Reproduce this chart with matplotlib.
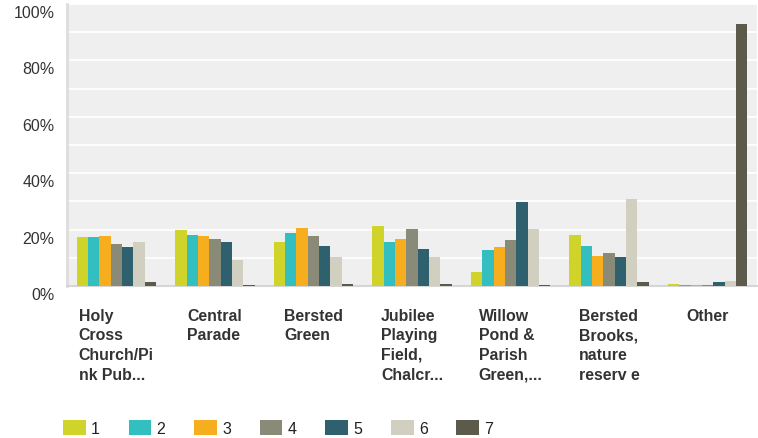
import matplotlib
matplotlib.use('Agg')
import matplotlib.pyplot as plt
import matplotlib.transforms as mtransforms
import numpy as np

plt.rcParams['font.family'] = ['Liberation Sans', 'DejaVu Sans']

# Data (percent of respondents per rank)
places = ['Holy\nCross\nChurch/Pi\nnk Pub...', 'Central\nParade', 'Bersted\nGreen',
          'Jubilee\nPlaying\nField,\nChalcr...', 'Willow\nPond &\nParish\nGreen,...',
          'Bersted\nBrooks,\nnature\nreserv e', 'Other']
ranks = ['1', '2', '3', '4', '5', '6', '7']
rank1 = [17.4, 19.9, 15.6, 21.3, 5.0, 18.1, 0.7]
rank2 = [17.4, 18.1, 18.8, 15.6, 12.8, 14.2, 0.4]
rank3 = [17.7, 17.7, 20.6, 16.7, 13.8, 10.6, 0.4]
rank4 = [14.9, 16.7, 17.7, 20.2, 16.3, 11.7, 0.4]
rank5 = [13.8, 15.6, 14.2, 13.1, 29.8, 10.3, 1.4]
rank6 = [15.6, 9.2, 10.3, 10.3, 20.2, 30.9, 1.8]
rank7 = [1.4, 0.4, 0.7, 0.7, 0.4, 1.4, 92.9]
series = [rank1, rank2, rank3, rank4, rank5, rank6, rank7]
colors = ['#d0d42a', '#33bec0', '#f6ae1f', '#898a78', '#2e606e', '#d0cfc0', '#5c5b4b']

fig = plt.figure(figsize=(7.58, 4.39), dpi=100)
ax = fig.add_axes([67 / 758, 152 / 439, 690 / 758, 282 / 439])
ax.set_facecolor('#efefef')

x = np.arange(len(places))
w = 0.115
handles = []
for i, (vals, c) in enumerate(zip(series, colors)):
    b = ax.bar(x + (i - 3) * w, vals, width=w, color=c, zorder=3, label=ranks[i])
    handles.append(b)

ax.set_xlim(-0.5, len(places) - 0.5)
ax.set_ylim(0, 100)
ax.set_yticks(np.arange(0, 101, 10))
ax.set_yticklabels([f'{v}%' if v % 20 == 0 else '' for v in range(0, 101, 10)])
ax.tick_params(axis='y', length=0, pad=9, labelsize=11.5, labelcolor='#333333')
ax.set_xticks([])
ax.grid(axis='y', color='white', linewidth=1.2, zorder=1)

# the percent labels sit a little below their gridlines
shift = mtransforms.ScaledTranslation(0, -7 / 100, fig.dpi_scale_trans)
for lbl in ax.get_yticklabels():
    lbl.set_transform(lbl.get_transform() + shift)

for s in ['top', 'right']:
    ax.spines[s].set_visible(False)
ax.spines['left'].set_color('#dddddd')
ax.spines['left'].set_linewidth(2)
ax.spines['bottom'].set_color('#d6d6d6')
ax.spines['bottom'].set_linewidth(1.5)

# category labels: block centred under each group, lines left aligned
for xi, name in zip(x, places):
    ax.annotate(name, xy=(xi, 0), xycoords=('data', 'axes fraction'),
                xytext=(0, -15.5), textcoords='offset points', ha='center', va='top',
                multialignment='left', fontsize=11.4, fontweight='bold',
                color='#333333', linespacing=1.39)

fig.legend(handles=handles, labels=ranks, loc='lower left', ncol=7,
           bbox_to_anchor=(63 / 758, 2 / 439), frameon=False, borderpad=0,
           borderaxespad=0, fontsize=11.5, handlelength=1.42, handleheight=1.06,
           handletextpad=0.33, columnspacing=1.8, labelcolor='#222222')

fig.savefig('out.png', dpi=100)
